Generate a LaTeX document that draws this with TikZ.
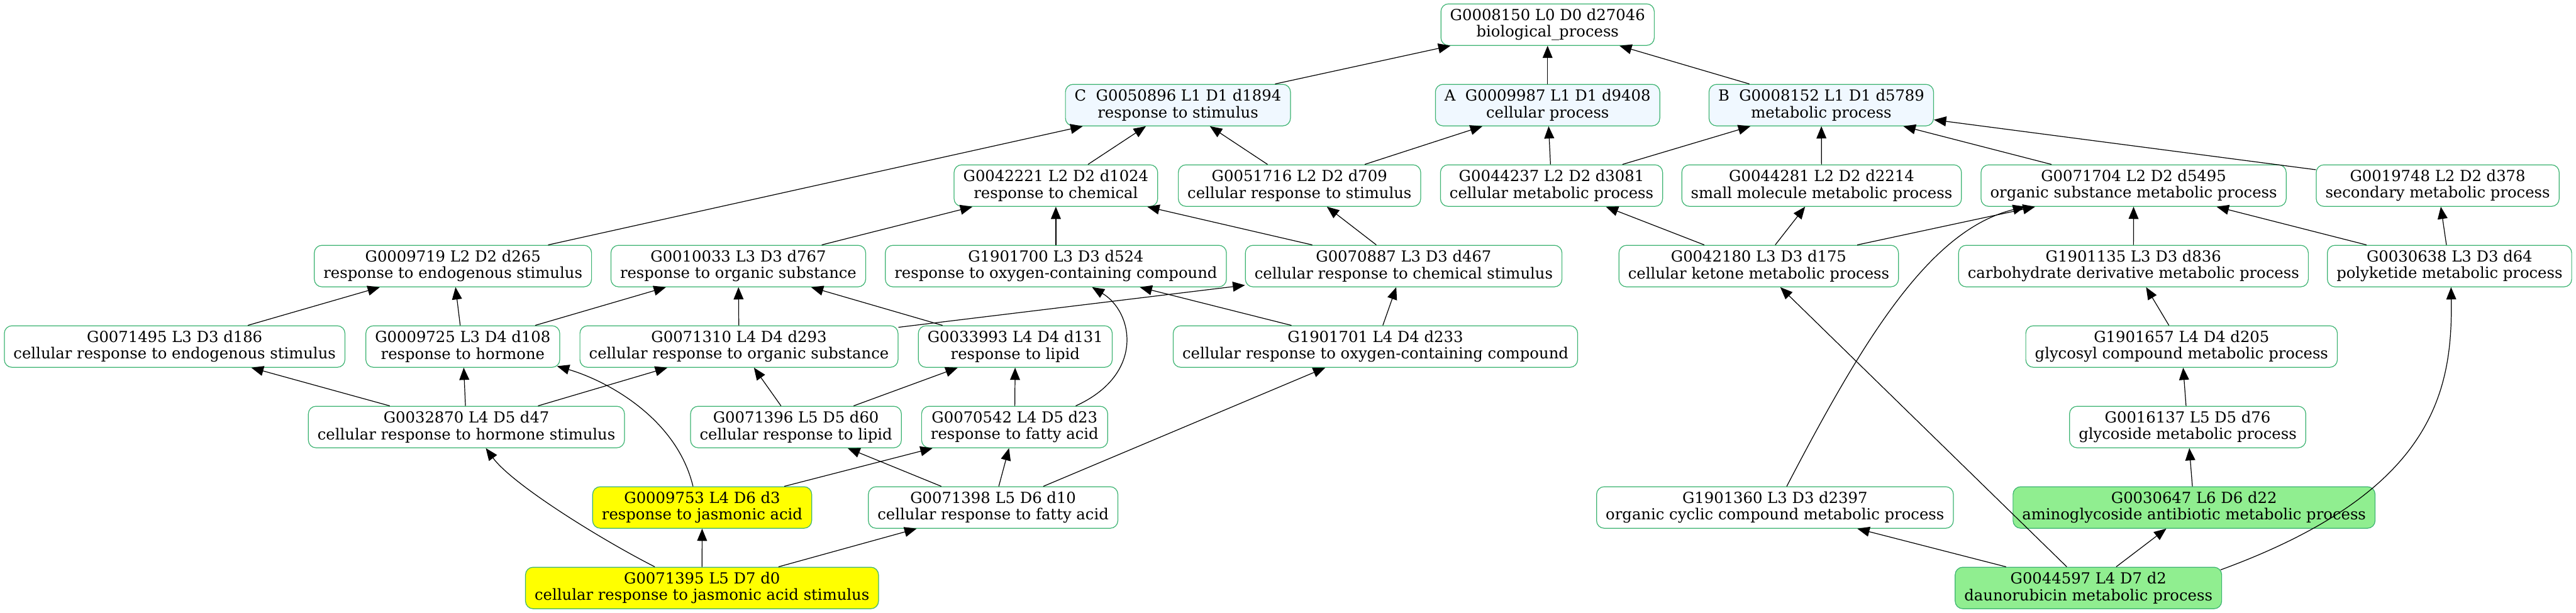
\documentclass[tikz,border=0pt]{standalone}
\usepackage{fontspec}
\setmainfont{DejaVu Serif}
\usepackage{tikz}
\usetikzlibrary{arrows.meta}
\definecolor{goline}{HTML}{3CB371}
\definecolor{gobase}{HTML}{F0F8FF}
\definecolor{gostudy}{HTML}{FFFF00}
\definecolor{gopop}{HTML}{90EE90}

\begin{document}
\begin{tikzpicture}[x=1.0755pt,y=-1.0755pt,
  term/.style={draw=goline,line width=0.5pt,rounded corners=5pt,align=center,
    inner xsep=6pt,inner ysep=0pt,minimum height=27.2pt,
    font=\fontsize{10}{10.86}\selectfont},
  base/.style={term,fill=gobase},
  study/.style={term,fill=gostudy},
  pop/.style={term,fill=gopop},
  isa/.style={-{Triangle[length=8pt,width=6.5pt]},line width=0.5pt}]
\useasboundingbox (0,0) rectangle (1568,373);
\node[term] (G0008150) at (942,15) {G0008150 L0 D0 d27046\\biological\_process};
\node[base] (G0050896) at (717,64) {C\ \ G0050896 L1 D1 d1894\\response to stimulus};
\node[base] (G0009987) at (942,64) {A\ \ G0009987 L1 D1 d9408\\cellular process};
\node[base] (G0008152) at (1108.6,64) {B\ \ G0008152 L1 D1 d5789\\metabolic process};
\node[term] (G0042221) at (642.7,113) {G0042221 L2 D2 d1024\\response to chemical};
\node[term] (G0051716) at (791,113) {G0051716 L2 D2 d709\\cellular response to stimulus};
\node[term] (G0044237) at (944.4,113) {G0044237 L2 D2 d3081\\cellular metabolic process};
\node[term] (G0044281) at (1108.8,113) {G0044281 L2 D2 d2214\\small molecule metabolic process};
\node[term] (G0071704) at (1298.7,113) {G0071704 L2 D2 d5495\\organic substance metabolic process};
\node[term] (G0019748) at (1483.8,113) {G0019748 L2 D2 d378\\secondary metabolic process};
\node[term] (G0009719) at (275.7,162) {G0009719 L2 D2 d265\\response to endogenous stimulus};
\node[term] (G0010033) at (449.4,162) {G0010033 L3 D3 d767\\response to organic substance};
\node[term] (G1901700) at (642.7,162) {G1901700 L3 D3 d524\\response to oxygen-containing compound};
\node[term] (G0070887) at (854.4,162) {G0070887 L3 D3 d467\\cellular response to chemical stimulus};
\node[term] (G0042180) at (1070.5,162) {G0042180 L3 D3 d175\\cellular ketone metabolic process};
\node[term] (G1901135) at (1298.6,162) {G1901135 L3 D3 d836\\carbohydrate derivative metabolic process};
\node[term] (G0030638) at (1491,162) {G0030638 L3 D3 d64\\polyketide metabolic process};
\node[term] (G0071495) at (106.3,211) {G0071495 L3 D3 d186\\cellular response to endogenous stimulus};
\node[term] (G0009725) at (281.7,211) {G0009725 L3 D4 d108\\response to hormone};
\node[term] (G0071310) at (449.8,211) {G0071310 L4 D4 d293\\cellular response to organic substance};
\node[term] (G0033993) at (618,211) {G0033993 L4 D4 d131\\response to lipid};
\node[term] (G1901701) at (837.2,211) {G1901701 L4 D4 d233\\cellular response to oxygen-containing compound};
\node[term] (G1901657) at (1327.9,211) {G1901657 L4 D4 d205\\glycosyl compound metabolic process};
\node[term] (G0032870) at (283.9,260) {G0032870 L4 D5 d47\\cellular response to hormone stimulus};
\node[term] (G0071396) at (484.5,260) {G0071396 L5 D5 d60\\cellular response to lipid};
\node[term] (G0070542) at (617.6,260) {G0070542 L4 D5 d23\\response to fatty acid};
\node[term] (G0016137) at (1331.6,260) {G0016137 L5 D5 d76\\glycoside metabolic process};
\node[study] (G0009753) at (427.4,309) {G0009753 L4 D6 d3\\response to jasmonic acid};
\node[term] (G0071398) at (604.5,309) {G0071398 L5 D6 d10\\cellular response to fatty acid};
\node[term] (G1901360) at (1080.4,309) {G1901360 L3 D3 d2397\\organic cyclic compound metabolic process};
\node[pop] (G0030647) at (1335.5,309) {G0030647 L6 D6 d22\\aminoglycoside antibiotic metabolic process};
\node[study] (G0071395) at (427.3,358) {G0071395 L5 D7 d0\\cellular response to jasmonic acid stimulus};
\node[pop] (G0044597) at (1271.2,358) {G0044597 L4 D7 d2\\daunorubicin metabolic process};
\draw[isa] (G0050896) -- (G0008150);
\draw[isa] (G0009987) -- (G0008150);
\draw[isa] (G0008152) -- (G0008150);
\draw[isa] (G0042221) -- (G0050896);
\draw[isa] (G0051716) -- (G0050896);
\draw[isa] (G0009719) -- (G0050896);
\draw[isa] (G0051716) -- (G0009987);
\draw[isa] (G0044237) -- (G0009987);
\draw[isa] (G0044237) -- (G0008152);
\draw[isa] (G0044281) -- (G0008152);
\draw[isa] (G0071704) -- (G0008152);
\draw[isa] (G0019748) -- (G0008152);
\draw[isa] (G0010033) -- (G0042221);
\draw[isa] (G1901700) -- (G0042221);
\draw[isa] (G0070887) -- (G0042221);
\draw[isa] (G0070887) -- (G0051716);
\draw[isa] (G0042180) -- (G0044237);
\draw[isa] (G0042180) -- (G0044281);
\draw[isa] (G0042180) -- (G0071704);
\draw[isa] (G1901135) -- (G0071704);
\draw[isa] (G0030638) -- (G0071704);
\draw[isa] (G0030638) -- (G0019748);
\draw[isa] ([xshift=7.7pt]G1901360.north) .. controls (1135,205) and (1175,140) .. ([xshift=-71pt]G0071704.south);
\draw[isa] (G0071495) -- (G0009719);
\draw[isa] (G0009725) -- (G0009719);
\draw[isa] (G0009725) -- (G0010033);
\draw[isa] (G0071310) -- (G0010033);
\draw[isa] (G0033993) -- (G0010033);
\draw[isa] (G0071310) -- (G0070887);
\draw[isa] (G1901701) -- (G1901700);
\draw[isa] (G1901701) -- (G0070887);
\draw[isa] ([xshift=40pt]G0070542.north) .. controls (697,228) and (690,190) .. ([xshift=23.7pt]G1901700.south);
\draw[isa] (G1901657) -- (G1901135);
\draw[isa] (G0032870) -- (G0071495);
\draw[isa] (G0032870) -- (G0009725);
\draw[isa] (G0032870) -- (G0071310);
\draw[isa] (G0071396) -- (G0071310);
\draw[isa] (G0071396) -- (G0033993);
\draw[isa] (G0070542) -- (G0033993);
\draw[isa] (G0016137) -- (G1901657);
\draw[isa] ([xshift=-6pt]G0009753.north) .. controls (412,255) and (370,232) .. ([xshift=-2pt,yshift=1pt]G0009725.south east);
\draw[isa] (G0009753) -- (G0070542);
\draw[isa] (G0071398) -- (G0071396);
\draw[isa] (G0071398) -- (G0070542);
\draw[isa] (G0071398) -- (G1901701);
\draw[isa] (G0030647) -- (G0016137);
\draw[isa] ([xshift=-30.9pt]G0071395.north) .. controls (365,328) and (312,295) .. ([xshift=12.7pt]G0032870.south);
\draw[isa] (G0071395) -- (G0009753);
\draw[isa] (G0071395) -- (G0071398);
\draw[isa] (G0044597) -- (G1901360);
\draw[isa] (G0044597) -- (G0030647);
\draw[isa] (G0044597) -- (G0042180);
\draw[isa] ([xshift=-1pt,yshift=-2pt]G0044597.north east) .. controls (1480,300) and (1493,240) .. ([xshift=1pt]G0030638.south);
\end{tikzpicture}
\end{document}
